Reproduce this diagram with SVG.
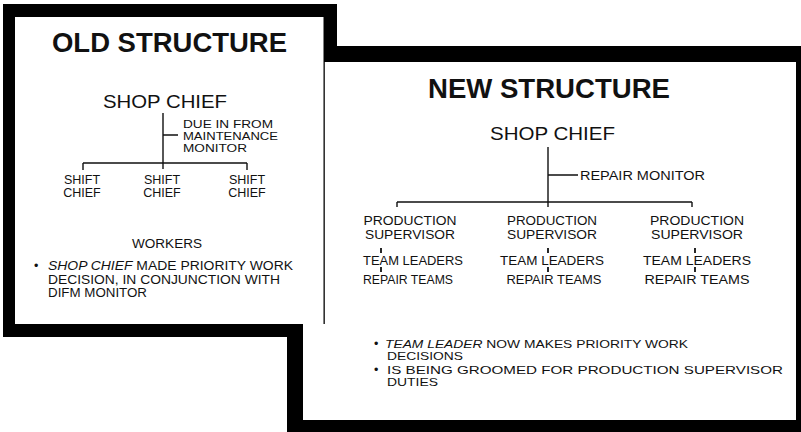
<svg xmlns="http://www.w3.org/2000/svg" width="801" height="432" viewBox="0 0 801 432">
<style>
text{font-family:"Liberation Sans",Arial,Helvetica,sans-serif;fill:#111}
.title{font-size:27px;font-weight:bold}
.chief{font-size:19px}
.sm{font-size:12.5px}
.xs{font-size:11.3px}
.md{font-size:13px}
.c{text-anchor:middle}
.it{font-style:italic}
.ln{stroke:#111;stroke-width:1.4;fill:none}
.tk{stroke:#111;stroke-width:1.8;fill:none}
</style>
<rect width="801" height="432" fill="#fff"/>
<g id="frame">
<path d="M3,4 H337 V46 H801 V432 H287 V337 H3 Z" fill="#000"/>
<rect x="15" y="17" width="308.5" height="307" fill="#fff"/>
<rect x="324.8" y="62" width="471.2" height="358" fill="#fff"/>
<rect x="303" y="324" width="23" height="96" fill="#fff"/>
</g>
<g id="old-structure">
<g id="old-title"><text class="title" x="52" y="52" textLength="235" lengthAdjust="spacingAndGlyphs">OLD STRUCTURE</text></g>
<g id="old-shop-chief"><text class="chief" x="103" y="108" textLength="124" lengthAdjust="spacingAndGlyphs">SHOP CHIEF</text></g>
<g id="old-monitor">
<text class="xs" x="183" y="128" textLength="90" lengthAdjust="spacingAndGlyphs">DUE IN FROM</text>
<text class="xs" x="183" y="140" textLength="95" lengthAdjust="spacingAndGlyphs">MAINTENANCE</text>
<text class="xs" x="183" y="152" textLength="64" lengthAdjust="spacingAndGlyphs">MONITOR</text>
</g>
<g id="shift-chief-1"><text class="sm c" x="82" y="184">SHIFT</text><text class="sm c" x="82" y="197">CHIEF</text></g>
<g id="shift-chief-2"><text class="sm c" x="162" y="184">SHIFT</text><text class="sm c" x="162" y="197">CHIEF</text></g>
<g id="shift-chief-3"><text class="sm c" x="247" y="184">SHIFT</text><text class="sm c" x="247" y="197">CHIEF</text></g>
<g id="workers"><text class="sm c" x="167" y="248" textLength="70" lengthAdjust="spacingAndGlyphs">WORKERS</text></g>
<g id="old-notes">
<text class="sm" x="34" y="270">•</text>
<text class="sm" x="48" y="270" textLength="245" lengthAdjust="spacingAndGlyphs"><tspan class="it">SHOP CHIEF</tspan> MADE PRIORITY WORK</text>
<text class="sm" x="48" y="284" textLength="232" lengthAdjust="spacingAndGlyphs">DECISION, IN CONJUNCTION  WITH</text>
<text class="sm" x="48" y="297" textLength="99" lengthAdjust="spacingAndGlyphs">DIFM MONITOR</text>
</g>
</g>
<g id="new-structure">
<g id="new-title"><text class="title" x="428" y="98" textLength="242" lengthAdjust="spacingAndGlyphs">NEW STRUCTURE</text></g>
<g id="new-shop-chief"><text class="chief" x="490" y="140" textLength="125" lengthAdjust="spacingAndGlyphs">SHOP CHIEF</text></g>
<g id="repair-monitor"><text class="sm" x="580" y="180" textLength="125" lengthAdjust="spacingAndGlyphs">REPAIR MONITOR</text></g>
<g id="prod-sup-1"><text class="md c" x="410" y="225" textLength="93" lengthAdjust="spacingAndGlyphs">PRODUCTION</text><text class="md c" x="410" y="239" textLength="90" lengthAdjust="spacingAndGlyphs">SUPERVISOR</text></g>
<g id="prod-sup-2"><text class="md c" x="552" y="225" textLength="90" lengthAdjust="spacingAndGlyphs">PRODUCTION</text><text class="md c" x="552" y="239" textLength="90" lengthAdjust="spacingAndGlyphs">SUPERVISOR</text></g>
<g id="prod-sup-3"><text class="md c" x="697" y="225" textLength="94" lengthAdjust="spacingAndGlyphs">PRODUCTION</text><text class="md c" x="697" y="239" textLength="92" lengthAdjust="spacingAndGlyphs">SUPERVISOR</text></g>
<g id="team-leaders-1"><text class="md c" x="413" y="265" textLength="100" lengthAdjust="spacingAndGlyphs">TEAM LEADERS</text></g>
<g id="team-leaders-2"><text class="md c" x="552" y="265" textLength="104" lengthAdjust="spacingAndGlyphs">TEAM LEADERS</text></g>
<g id="team-leaders-3"><text class="md c" x="697" y="265" textLength="108" lengthAdjust="spacingAndGlyphs">TEAM LEADERS</text></g>
<g id="repair-teams-1"><text class="md c" x="408" y="284" textLength="90" lengthAdjust="spacingAndGlyphs">REPAIR TEAMS</text></g>
<g id="repair-teams-2"><text class="md c" x="554" y="284" textLength="95" lengthAdjust="spacingAndGlyphs">REPAIR TEAMS</text></g>
<g id="repair-teams-3"><text class="md c" x="697" y="284" textLength="105" lengthAdjust="spacingAndGlyphs">REPAIR TEAMS</text></g>
<g id="new-notes">
<text class="sm" x="374" y="348">•</text>
<text class="xs" x="385" y="348" textLength="303" lengthAdjust="spacingAndGlyphs"><tspan class="it">TEAM LEADER</tspan> NOW MAKES PRIORITY WORK</text>
<text class="xs" x="387" y="360" textLength="76" lengthAdjust="spacingAndGlyphs">DECISIONS</text>
<text class="sm" x="374" y="374">•</text>
<text class="xs" x="387" y="374" textLength="396" lengthAdjust="spacingAndGlyphs">IS BEING GROOMED FOR PRODUCTION SUPERVISOR</text>
<text class="xs" x="387" y="386" textLength="51" lengthAdjust="spacingAndGlyphs">DUTIES</text>
</g>
</g>
<g id="connectors">
<path class="ln" d="M163,113 V169 M163,135 H178 M83,163 H247 M83,163 V170 M247,163 V170"/>
<path class="ln" d="M548,147 V207 M548,175 H578 M397,202 H692 M397,202 V207 M692,202 V207"/>
<path class="tk" d="M381,248 V253 M381,267 V272 M548,248 V253 M548,267 V272 M695,248 V253 M695,267 V272"/>
</g>
</svg>
